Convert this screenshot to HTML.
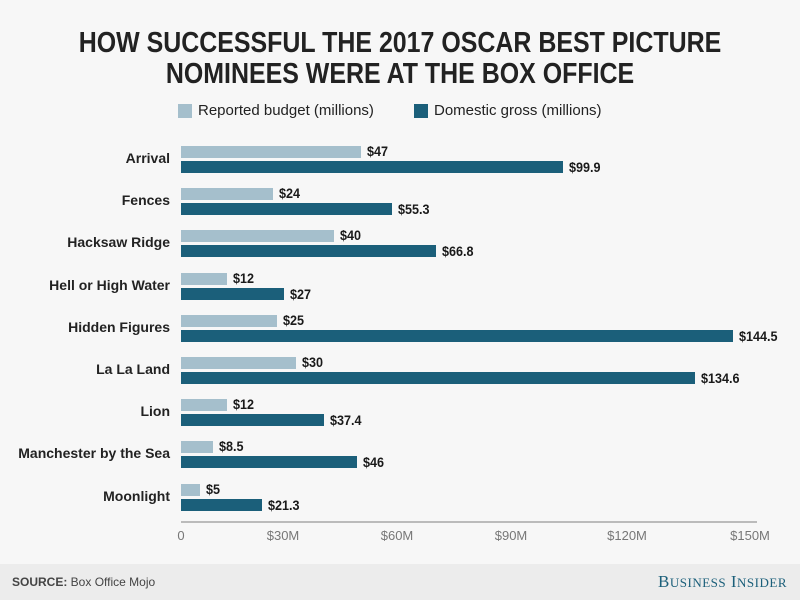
<!DOCTYPE html><html><head><style>
body{margin:0;width:800px;height:600px;background:#f7f7f7;font-family:"Liberation Sans",sans-serif;position:relative;overflow:hidden}
.t{position:absolute;left:0;width:800px;text-align:center;font-weight:bold;font-size:29px;line-height:31px;top:28px;color:#222;transform:scaleX(0.86);transform-origin:400px 0}
.a{position:absolute}
.lab{position:absolute;right:630px;font-weight:bold;font-size:14px;color:#222;white-space:nowrap}
.b1{position:absolute;left:181px;height:12px;background:#a5bfcc}
.b2{position:absolute;left:181px;height:12px;background:#1b5f7a}
.v{position:absolute;font-weight:bold;font-size:14px;color:#1a1a1a;transform:scaleX(0.9);transform-origin:0 0}
.tk{position:absolute;top:528px;font-size:13px;color:#777;transform:translateX(-50%)}
</style></head><body>
<div class="t">HOW SUCCESSFUL THE 2017 OSCAR BEST PICTURE<br>NOMINEES WERE AT THE BOX OFFICE</div>
<div class="a" style="left:178px;top:104px;width:14px;height:14px;background:#a5bfcc"></div>
<div class="a" style="left:198px;top:102px;font-size:15px;color:#222">Reported budget (millions)</div>
<div class="a" style="left:414px;top:104px;width:14px;height:14px;background:#1b5f7a"></div>
<div class="a" style="left:434px;top:102px;font-size:15px;color:#222">Domestic gross (millions)</div>
<div id="rows"></div>
<div class="a" style="left:181px;top:521px;width:576px;height:2px;background:#bbb"></div>
<div class="tk" style="left:181px">0</div>
<div class="tk" style="left:283px">$30M</div>
<div class="tk" style="left:397px">$60M</div>
<div class="tk" style="left:511px">$90M</div>
<div class="tk" style="left:627px">$120M</div>
<div class="tk" style="left:750px">$150M</div>
<div class="a" style="left:0;top:564px;width:800px;height:36px;background:#ececec"></div>
<div class="a" style="left:12px;top:575px;font-size:12px;color:#444"><b>SOURCE:</b> Box Office Mojo</div>
<div class="a" style="right:13px;top:572px;font-family:'Liberation Serif',serif;font-size:17px;color:#1b5f7a;letter-spacing:0.5px">B<span style="font-size:13px">USINESS</span> I<span style="font-size:13px">NSIDER</span></div>
<script>
var d=[["Arrival",47,99.9,"$47","$99.9"],["Fences",24,55.3,"$24","$55.3"],["Hacksaw Ridge",40,66.8,"$40","$66.8"],["Hell or High Water",12,27,"$12","$27"],["Hidden Figures",25,144.5,"$25","$144.5"],["La La Land",30,134.6,"$30","$134.6"],["Lion",12,37.4,"$12","$37.4"],["Manchester by the Sea",8.5,46,"$8.5","$46"],["Moonlight",5,21.3,"$5","$21.3"]];
var h="",s=3.82;
d.forEach(function(r,i){var y=146+i*42.2;
h+='<div class="lab" style="top:'+(y+4)+'px">'+r[0]+'</div>';
h+='<div class="b1" style="top:'+y+'px;width:'+(r[1]*s)+'px"></div>';
h+='<div class="v" style="top:'+(y-3)+'px;left:'+(181+r[1]*s+6)+'px">'+r[3]+'</div>';
h+='<div class="b2" style="top:'+(y+15)+'px;width:'+(r[2]*s)+'px"></div>';
h+='<div class="v" style="top:'+(y+13)+'px;left:'+(181+r[2]*s+6)+'px">'+r[4]+'</div>';});
document.getElementById("rows").innerHTML=h;
</script>
</body></html>
